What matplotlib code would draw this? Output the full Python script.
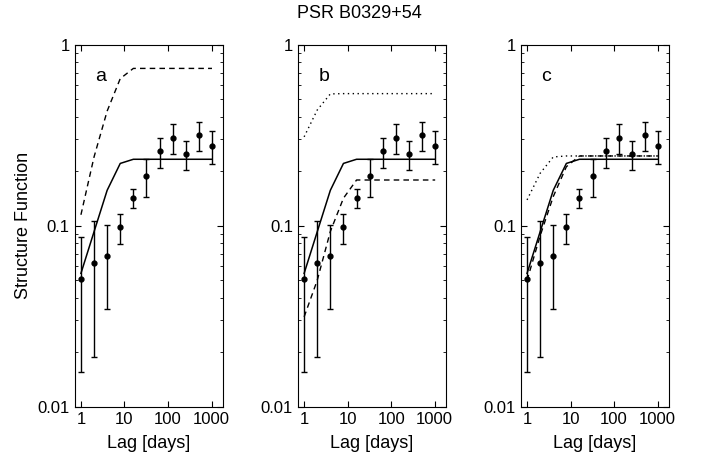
import matplotlib
matplotlib.use("Agg")
import matplotlib.pyplot as plt
from matplotlib.ticker import LogLocator, FixedLocator, NullFormatter
import numpy as np

plt.rcParams["font.family"] = ["Liberation Sans", "DejaVu Sans"]

# ── Data ──────────────────────────────────────────────────────────────────────
lag      = [1, 2, 4, 8, 16, 32, 64, 128, 256, 512, 1024]
sf       = [0.0508, 0.0625, 0.068, 0.098, 0.143, 0.188, 0.258, 0.305, 0.249, 0.317, 0.276]
sf_hi    = [0.087, 0.1067, 0.101, 0.116, 0.1595, 0.233, 0.304, 0.363, 0.295, 0.373, 0.332]
sf_lo    = [0.0155, 0.0189, 0.0345, 0.0796, 0.126, 0.1435, 0.209, 0.249, 0.202, 0.26, 0.22]

# model curves
model_solid   = [0.0546, 0.0927, 0.157, 0.221, 0.233, 0.233, 0.233, 0.233, 0.233, 0.233, 0.233]
a_dashed      = [0.115, 0.24, 0.43, 0.65, 0.74, 0.74, 0.74, 0.74, 0.74, 0.74, 0.74]
b_dotted      = [0.31, 0.436, 0.535, 0.537, 0.537, 0.537, 0.537, 0.537, 0.537, 0.537, 0.537]
b_dashed      = [0.0314, 0.05, 0.093, 0.142, 0.179, 0.179, 0.179, 0.179, 0.179, 0.179, 0.179]
c_dotted      = [0.139, 0.195, 0.24, 0.243, 0.243, 0.243, 0.243, 0.243, 0.243, 0.243, 0.243]
c_dashed      = [0.05, 0.088, 0.145, 0.212, 0.243, 0.243, 0.243, 0.243, 0.243, 0.243, 0.243]

panels = ["a", "b", "c"]
extra_lines = {
    "a": [(a_dashed, (0, (4, 3)))],
    "b": [(b_dotted, (0, (1, 2.5))), (b_dashed, (0, (4, 3)))],
    "c": [(c_dotted, (0, (1, 2.5))), (c_dashed, (0, (4, 3)))],
}

lag = np.array(lag)
sf = np.array(sf)
yerr = [sf - np.array(sf_lo), np.array(sf_hi) - sf]

fig = plt.figure(figsize=(7.01, 4.66), dpi=100)
lefts = [0.1066, 0.425, 0.743]
for left, name in zip(lefts, panels):
    ax = fig.add_axes([left, 0.127, 0.211, 0.777])
    ax.set_xscale("log")
    ax.set_yscale("log")
    ax.plot(lag, model_solid, color="black", linewidth=1.1)
    for vals, ls in extra_lines[name]:
        ax.plot(lag, vals, color="black", linewidth=1.0, linestyle=ls)
    ax.errorbar(lag, sf, yerr=yerr, fmt="o", color="black", markersize=3.5,
                elinewidth=1.0, capsize=2.5, capthick=1.0)
    ax.set_xlim(0.72, 1800)
    ax.set_ylim(0.01, 1)
    ax.xaxis.set_major_locator(FixedLocator([1, 10, 100, 1000]))
    ax.xaxis.set_minor_locator(LogLocator(base=10, subs=np.arange(2, 10)))
    ax.xaxis.set_minor_formatter(NullFormatter())
    ax.set_xticklabels(["1", "10", "100", "1000"])
    ax.yaxis.set_major_locator(FixedLocator([0.01, 0.1, 1]))
    ax.yaxis.set_minor_locator(LogLocator(base=10, subs=np.arange(2, 10)))
    ax.yaxis.set_minor_formatter(NullFormatter())
    ax.set_yticklabels(["0.01", "0.1", "1"])
    ax.tick_params(which="both", direction="in", top=True, right=True,
                   labelsize=12)
    ax.tick_params(which="major", length=4)
    ax.tick_params(which="minor", length=2)
    ax.set_xlabel("Lag [days]", fontsize=13, labelpad=6)
    ax.text(0.14, 0.9, name, transform=ax.transAxes, fontsize=14)
    if name == "a":
        ax.set_ylabel("Structure Function", fontsize=13, labelpad=4)

fig.text(0.513, 0.962, "PSR B0329+54", ha="center", fontsize=13)
fig.savefig("out.png", dpi=100)
